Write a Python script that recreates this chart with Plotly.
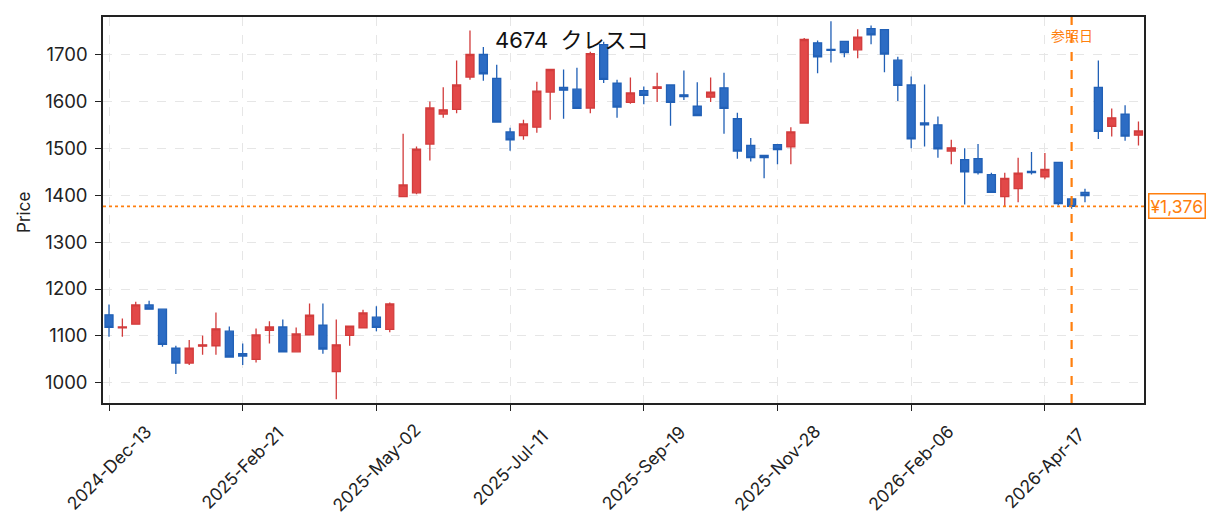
import pandas as pd
import plotly.graph_objects as go

# ---- data (weekly candles) ----
dates = pd.date_range("2024-12-13", periods=78, freq="W-FRI")
opens = [1145, 1117, 1125, 1166, 1157, 1074, 1042, 1078, 1079, 1110,
         1062, 1050, 1112, 1119, 1066, 1102, 1123, 1024, 1101, 1117,
         1140, 1114, 1397, 1405, 1509, 1573, 1583, 1652, 1700, 1649,
         1535, 1527, 1545, 1620, 1630, 1626, 1586, 1721, 1639, 1598,
         1623, 1628, 1635, 1614, 1590, 1609, 1629, 1563, 1506, 1485,
         1508, 1503, 1554, 1725, 1711, 1728, 1710, 1755, 1753, 1688,
         1635, 1554, 1550, 1494, 1476, 1478, 1444, 1397, 1414, 1451,
         1439, 1470, 1392, 1406, 1630, 1547, 1573, 1528]
highs = [1167, 1137, 1173, 1175, 1157, 1079, 1091, 1101, 1150, 1120,
         1084, 1116, 1131, 1135, 1118, 1169, 1169, 1135, 1121, 1156,
         1163, 1171, 1531, 1504, 1600, 1630, 1687, 1751, 1716, 1678,
         1544, 1561, 1642, 1668, 1668, 1672, 1706, 1727, 1646, 1651,
         1632, 1661, 1635, 1666, 1641, 1651, 1661, 1576, 1522, 1485,
         1508, 1545, 1735, 1730, 1771, 1728, 1754, 1762, 1753, 1695,
         1653, 1636, 1568, 1518, 1500, 1509, 1448, 1448, 1480, 1492,
         1490, 1470, 1392, 1414, 1687, 1585, 1592, 1557]
lows = [1098, 1098, 1124, 1156, 1077, 1019, 1038, 1060, 1060, 1054,
        1038, 1043, 1084, 1065, 1065, 1101, 1062, 965, 1079, 1116,
        1110, 1108, 1397, 1402, 1474, 1565, 1575, 1646, 1644, 1555,
        1495, 1518, 1533, 1561, 1563, 1585, 1575, 1639, 1565, 1595,
        1594, 1599, 1548, 1603, 1570, 1599, 1531, 1478, 1472, 1436,
        1466, 1466, 1553, 1660, 1683, 1694, 1692, 1722, 1662, 1601,
        1500, 1504, 1480, 1466, 1380, 1444, 1405, 1376, 1385, 1444,
        1434, 1378, 1371, 1385, 1520, 1525, 1516, 1506]
closes = [1118, 1119, 1166, 1157, 1082, 1042, 1074, 1081, 1115, 1055,
          1057, 1102, 1119, 1066, 1104, 1144, 1072, 1081, 1121, 1149,
          1118, 1168, 1422, 1498, 1586, 1582, 1635, 1700, 1659, 1556,
          1518, 1552, 1622, 1668, 1624, 1585, 1702, 1647, 1588, 1618,
          1613, 1631, 1598, 1610, 1570, 1620, 1585, 1494, 1480, 1480,
          1497, 1535, 1732, 1695, 1709, 1704, 1737, 1742, 1701, 1634,
          1520, 1550, 1499, 1501, 1450, 1448, 1406, 1436, 1447, 1448,
          1455, 1382, 1376, 1399, 1536, 1565, 1526, 1537]

tick_dates = ["2024-12-13", "2025-02-21", "2025-05-02", "2025-07-11",
              "2025-09-19", "2025-11-28", "2026-02-06", "2026-04-17"]
tick_labels = ["2024-Dec-13", "2025-Feb-21", "2025-May-02", "2025-Jul-11",
               "2025-Sep-19", "2025-Nov-28", "2026-Feb-06", "2026-Apr-17"]
y_ticks = [1000, 1100, 1200, 1300, 1400, 1500, 1600, 1700]

ref_date = "2026-05-01"
ref_price = 1376
ref_label = "¥1,376"
ref_text = "参照日"
title_text = "4674\u00a0\u00a0クレスコ"
y_title = "Price"

FONT = "Inter, Noto Sans CJK JP, sans-serif"
ORANGE = "#ff7f0e"
TXT = "#222222"

fig = go.Figure()
fig.add_trace(go.Candlestick(
    x=dates, open=opens, high=highs, low=lows, close=closes,
    increasing=dict(fillcolor="#e24848", line=dict(color="#d23c3c", width=1.3)),
    decreasing=dict(fillcolor="#2c6cc4", line=dict(color="#2160b6", width=1.3)),
    whiskerwidth=0, showlegend=False, hoverinfo="skip",
))

x0 = dates[0] - pd.Timedelta(days=3.14)
x1 = dates[0] + pd.Timedelta(days=541.9)

fig.update_layout(
    width=1215, height=523,
    margin=dict(l=95, r=79, t=7, b=128),
    paper_bgcolor="white", plot_bgcolor="white",
    font=dict(family=FONT, size=16, color=TXT),
    boxgap=0.4, boxgroupgap=0,
    showlegend=False,
    xaxis=dict(
        type="date", range=[x0, x1], rangeslider=dict(visible=False),
        tickvals=tick_dates, showticklabels=False,
        ticks="outside", ticklen=6, tickwidth=1.3, tickcolor=TXT,
        showgrid=True, gridcolor="#e6e6e6", griddash="dash", gridwidth=1.2,
        showline=True, linecolor=TXT, linewidth=1.5, mirror=True,
        zeroline=False,
    ),
    yaxis=dict(
        range=[956.9, 1780], tickvals=y_ticks,
        ticks="outside", ticklen=6, tickwidth=1.3, tickcolor=TXT,
        showgrid=True, gridcolor="#e6e6e6", griddash="dash", gridwidth=1.2,
        showline=True, linecolor=TXT, linewidth=1.5, mirror=True,
        zeroline=False, ticklabelstandoff=4,
        tickfont=dict(size=18.5, color=TXT),
    ),
)

# reference lines
fig.add_shape(type="line", xref="paper", yref="y", x0=0, x1=1,
              y0=ref_price, y1=ref_price,
              line=dict(color=ORANGE, width=1.8, dash="dot"), layer="above")
fig.add_shape(type="line", xref="x", yref="paper", x0=ref_date, x1=ref_date,
              y0=0, y1=1, line=dict(color=ORANGE, width=2.2, dash="dash"),
              layer="above")

# y axis title
fig.add_annotation(text=y_title, xref="paper", yref="paper", x=-0.0759, y=0.495,
                   xanchor="center", yanchor="middle", showarrow=False,
                   textangle=-90, font=dict(size=17, color=TXT))
# title
fig.add_annotation(text=title_text, xref="paper", yref="paper",
                   x=0.4505, y=0.9394, xanchor="center", yanchor="middle",
                   showarrow=False, font=dict(size=22, color="#111111"))
# reference date label
fig.add_annotation(text=ref_text, xref="x", yref="paper", x=ref_date, y=0.951,
                   xanchor="center", yanchor="middle", showarrow=False,
                   font=dict(size=14, color=ORANGE))
# price label at right
fig.add_annotation(text=ref_label, xref="paper", yref="y", x=1.004, y=ref_price,
                   xanchor="left", yanchor="middle", showarrow=False,
                   font=dict(size=17.5, color=ORANGE), bgcolor="white",
                   bordercolor=ORANGE, borderwidth=1.5, borderpad=1)
# rotated x tick labels (centered on tick)
for d, lab in zip(tick_dates, tick_labels):
    fig.add_annotation(text=lab, xref="x", yref="paper", x=d, y=-0.1675,
                       xanchor="center", yanchor="middle", showarrow=False,
                       textangle=-45, font=dict(size=17.5, color=TXT))

fig.write_html("out.html")
